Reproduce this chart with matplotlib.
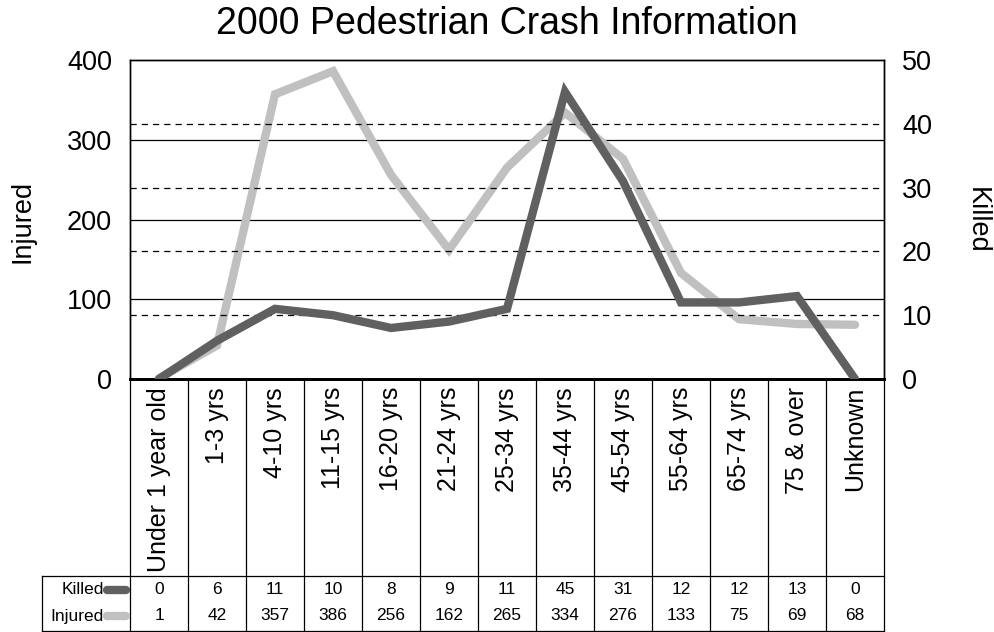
import numpy as np
import matplotlib.pyplot as plt
import matplotlib.transforms as mtransforms
from matplotlib.lines import Line2D

plt.rcParams['font.family'] = ['Liberation Sans', 'DejaVu Sans']

# Datos
categorias = ['Under 1 year old', '1-3 yrs', '4-10 yrs', '11-15 yrs', '16-20 yrs',
              '21-24 yrs', '25-34 yrs', '35-44 yrs', '45-54 yrs', '55-64 yrs',
              '65-74 yrs', '75 & over', 'Unknown']
killed = [0, 6, 11, 10, 8, 9, 11, 45, 31, 12, 12, 13, 0]
injured = [1, 42, 357, 386, 256, 162, 265, 334, 276, 133, 75, 69, 68]

W, H = 995, 632
fig = plt.figure(figsize=(W / 100, H / 100), dpi=100)

def fy(py):
    return 1 - py / H

def fx(px):
    return px / W

# area del grafico en pixeles
x0, x1, y0, y1 = 130, 884, 60, 379
ax = fig.add_axes([fx(x0), fy(y1), fx(x1 - x0), (y1 - y0) / H])
ax2 = ax.twinx()

n = len(categorias)
x = np.arange(n)
c_inj = '#c0c0c0'
c_kil = '#606060'

ax.plot(x, injured, color=c_inj, lw=6, solid_capstyle='round', solid_joinstyle='miter', zorder=3)
ax2.plot(x, killed, color=c_kil, lw=6, solid_capstyle='round', solid_joinstyle='miter', zorder=3)

ax.set_xlim(-0.5, n - 0.5)
ax.set_ylim(0, 400)
ax2.set_ylim(0, 50)
ax.set_yticks([0, 100, 200, 300, 400])
ax2.set_yticks([0, 10, 20, 30, 40, 50])
ax.set_xticks([])

for v in [100, 200, 300]:
    ax.axhline(v, color='black', lw=0.9, zorder=1)
for v in [10, 20, 30, 40]:
    ax2.axhline(v, color='black', lw=0.9, ls=(0, (5, 4)), zorder=1)

for a in (ax, ax2):
    a.tick_params(axis='y', length=0, labelsize=19.5, pad=13)
    for s in a.spines.values():
        s.set_linewidth(1.0)
    a.spines['bottom'].set_linewidth(2.0)

fig.text(0.509, fy(24), '2000 Pedestrian Crash Information', ha='center', va='center', fontsize=27)
fig.text(fx(22), fy(221), 'Injured', rotation=90, ha='center', va='center', fontsize=19.5)
fig.text(fx(977), fy(220), 'Killed', rotation=270, ha='center', va='center', fontsize=19.5)

# Etiquetas de categoria y tabla de datos
trans = mtransforms.blended_transform_factory(ax.transData, fig.transFigure)
for i, c in enumerate(categorias):
    fig.text(i, fy(387), c, transform=trans, rotation=90, ha='center', va='top', fontsize=18)
    fig.text(i, fy(590), str(killed[i]), transform=trans, ha='center', va='center', fontsize=12.5)
    fig.text(i, fy(616), str(injured[i]), transform=trans, ha='center', va='center', fontsize=12.5)

for i in range(n + 1):
    fig.add_artist(Line2D([i - 0.5, i - 0.5], [fy(y1), fy(631)], transform=trans, color='black', lw=0.9))

fig.add_artist(Line2D([fx(42), fx(42)], [fy(576), fy(631)], color='black', lw=0.9))
fig.add_artist(Line2D([fx(42), fx(x1)], [fy(576), fy(576)], color='black', lw=0.9))
fig.add_artist(Line2D([fx(42), fx(x1)], [fy(631), fy(631)], color='black', lw=0.9))

fig.text(fx(104), fy(590), 'Killed', ha='right', va='center', fontsize=12.5)
fig.text(fx(104), fy(616), 'Injured', ha='right', va='center', fontsize=12.5)
fig.add_artist(Line2D([fx(107), fx(126)], [fy(590), fy(590)], color=c_kil, lw=6, solid_capstyle='round'))
fig.add_artist(Line2D([fx(107), fx(126)], [fy(616), fy(616)], color=c_inj, lw=6, solid_capstyle='round'))

fig.savefig('out.png', dpi=100)
